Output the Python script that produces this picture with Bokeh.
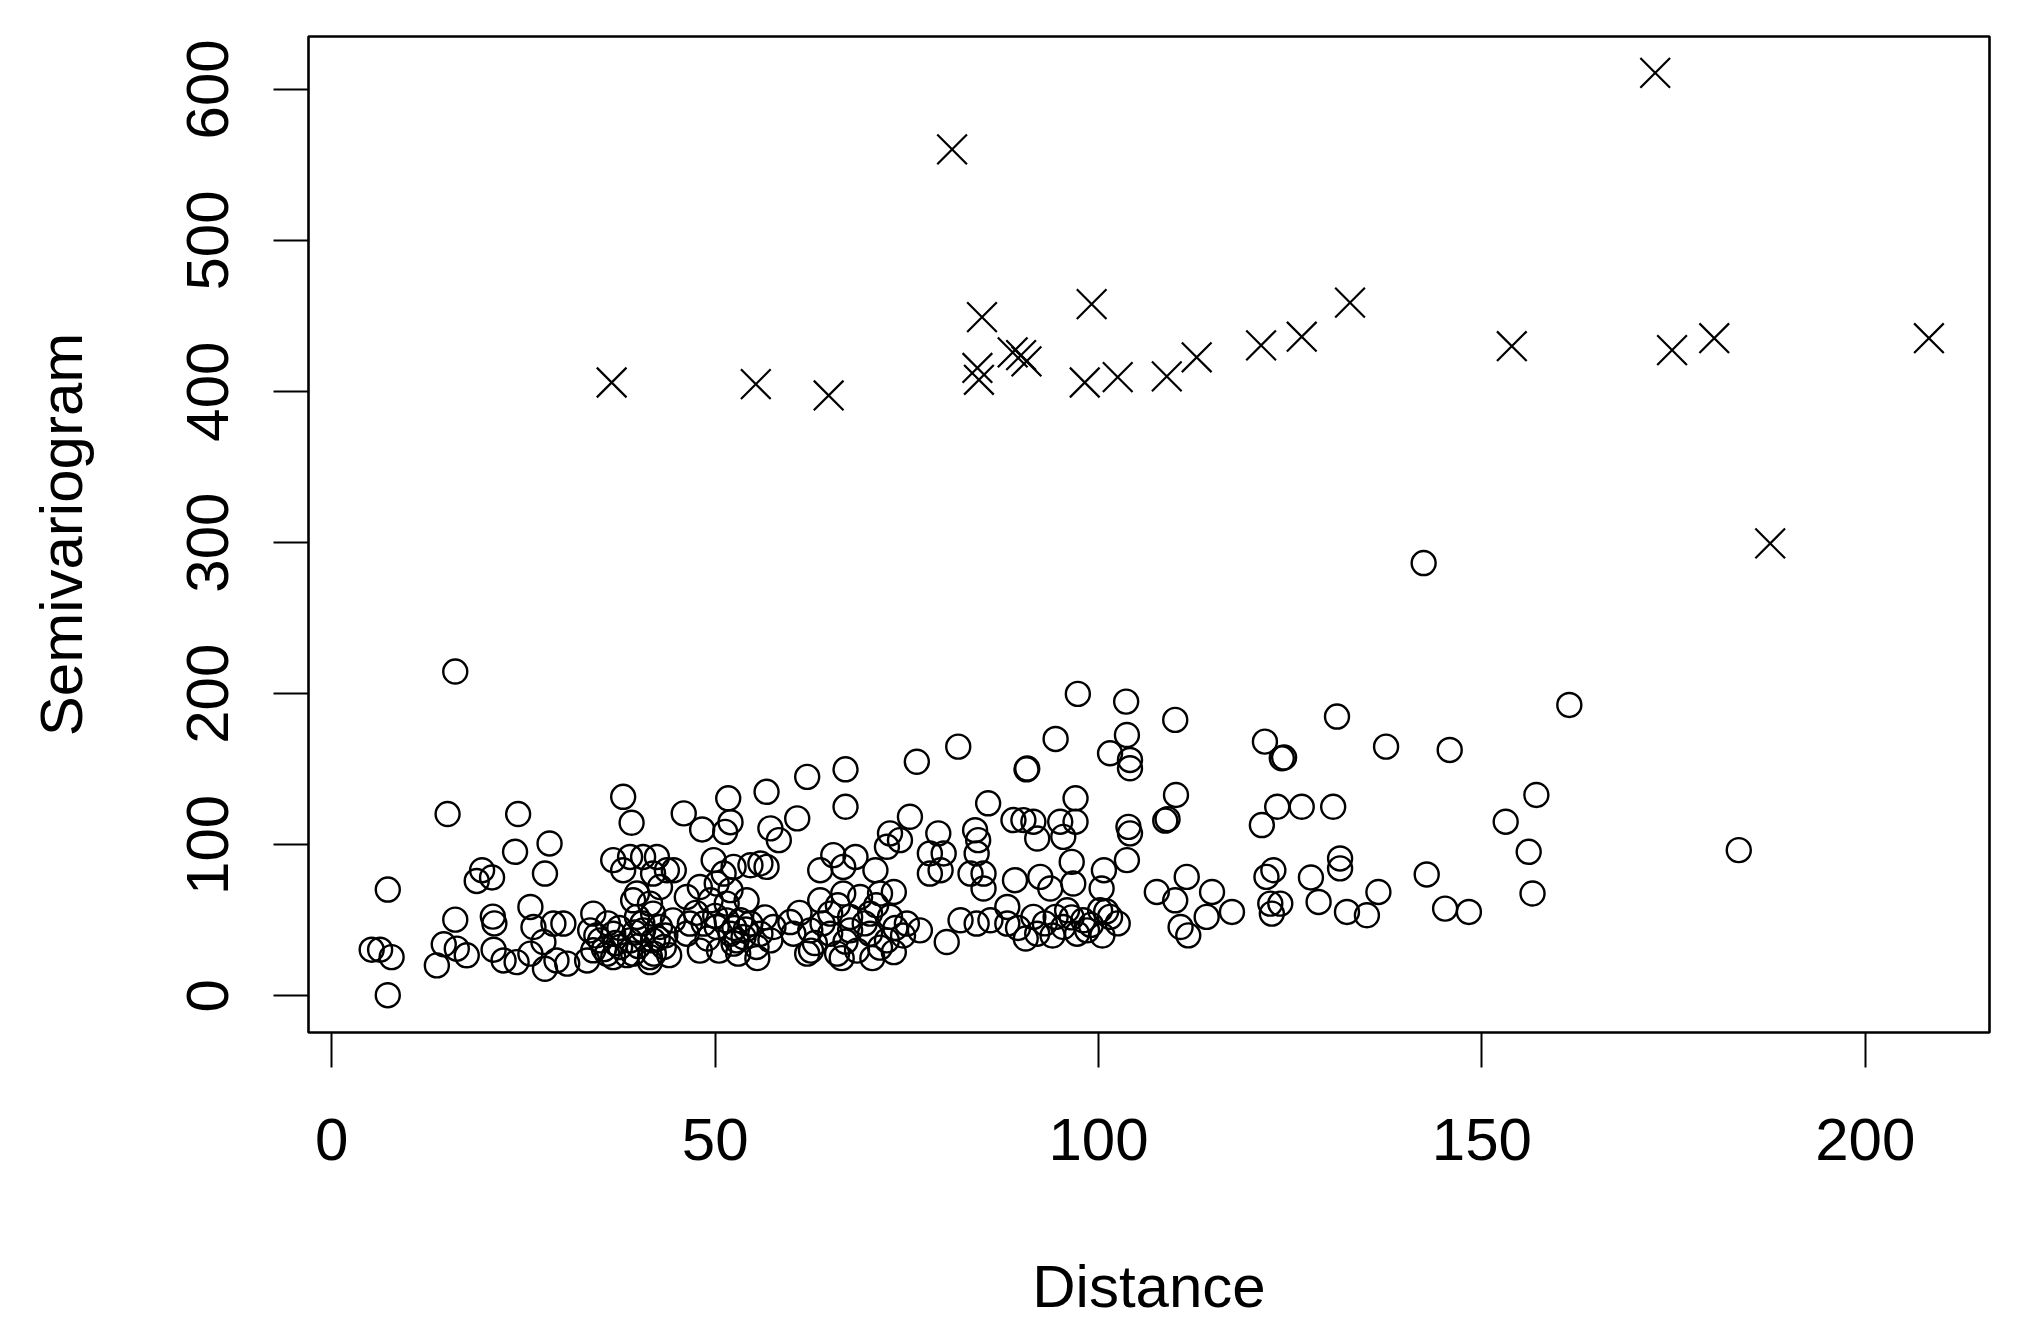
from bokeh.plotting import figure
from bokeh.models import Range1d, FixedTicker
from bokeh.embed import file_html
from bokeh.resources import INLINE

# Pairs shown as open circles (distance, semivariogram)
dist_o = [16.1, 15.1, 24.3, 38.0, 39.1, 45.9, 48.3, 51.7, 51.3, 52.0, 23.9, 28.4, 27.8, 19.6, 18.9, 20.9,
          7.3, 7.3, 5.2, 6.3, 7.8, 16.1, 14.6, 13.7, 17.6, 16.3, 21.0, 21.2, 21.1, 22.4, 24.1, 25.9,
          26.3, 25.9, 27.8, 27.6, 28.9, 30.2, 29.3, 30.7, 33.3, 34.1, 33.7,
          35.0, 36.7, 37.6, 35.9, 38.9, 40.6, 41.9, 39.3, 41.5, 43.3, 42.8, 39.8, 41.9, 36.7, 34.1,
          39.3, 41.5, 41.5, 36.7, 38.9, 40.6, 42.4, 43.7, 44.6, 38.0, 41.9, 42.8, 39.8, 46.3,
          49.8, 51.1, 52.4, 48.0, 50.2, 52.0, 49.4, 51.5, 46.7, 48.5, 50.2, 52.0, 52.4, 46.3,
          97.3, 103.6, 110.0, 94.4, 103.7, 81.7, 76.3, 67.0, 62.0, 56.7, 67.0, 60.7,
          90.6, 90.7, 101.5, 104.1, 104.1, 85.6, 97.0, 88.9, 90.2, 91.5, 92.0, 95.0, 97.0, 95.4,
          83.9, 84.3, 103.9, 104.1, 108.7, 109.0, 75.4, 72.8, 74.1, 72.4, 79.1, 78.0, 79.8, 78.0, 79.4,
          84.1, 83.3, 85.0, 85.0, 96.5, 89.1, 92.4, 93.7, 96.7, 100.7, 100.4, 103.7, 107.6,
          57.2, 58.3, 54.6, 55.9, 56.7, 54.1, 53.3, 54.6, 53.7, 55.9, 55.4, 57.2, 52.8, 59.8, 57.6, 62.0,
          63.7, 65.4, 68.3, 70.9, 66.7, 63.7, 66.7, 68.9, 71.5, 73.3,
          65.0, 67.6, 70.2, 72.8, 75.0, 76.7, 62.4, 65.0, 67.6, 70.2, 72.4, 65.9, 73.3, 60.2,
          82.0, 84.1, 80.2, 85.9, 88.1, 88.1, 91.5, 92.0, 94.4, 95.9, 95.4, 98.0, 100.2, 101.5, 98.5, 97.2,
          131.1, 161.4, 121.7, 123.9, 124.2, 137.5, 145.8, 110.1, 123.3, 126.5, 130.6, 121.3,
          157.1, 153.1, 156.1, 156.6, 142.8, 131.5, 131.5, 136.5, 132.4, 135.0, 145.2, 148.3,
          127.7, 128.7, 122.8, 121.9, 122.4, 122.6, 123.7,
          111.5, 110.0, 114.8, 117.4, 114.1, 110.7, 111.7, 183.5, 142.4,
          34.5, 36.0, 37.5, 38.5, 40.0, 40.5, 42.0, 43.5, 44.5, 37.0, 39.5, 35.5, 42.5, 44.0,
          47.5, 49.0, 50.5, 51.5, 53.0, 54.0, 55.5, 56.5, 48.0, 50.0, 52.5,
          61.0, 63.0, 64.0, 66.0, 67.0, 68.5, 69.5, 71.0, 71.5, 73.5, 74.5, 62.5, 66.5, 70.5,
          89.5, 90.5, 93.0, 94.0, 96.5, 99.0, 100.5, 102.5, 101.0]
gamma_o = [214.7, 120.4, 120.4, 131.8, 114.6, 120.8, 110.2, 130.8, 108.6, 115.0, 95.4, 100.9, 81.0, 83.2, 76.1, 78.4,
           70.4, 0.5, 30.6, 30.6, 25.7, 50.5, 34.2, 20.2, 26.9, 31.3, 52.5, 48.0, 30.6, 23.5, 22.4, 58.9,
           45.6, 28.0, 18.0, 35.7, 47.9, 47.9, 23.5, 21.4, 23.5, 54.5, 43.4,
           36.8, 41.2, 32.4, 28.0, 36.8, 43.4, 36.8, 28.0, 25.7, 32.4, 45.6, 52.3, 54.5, 25.7, 30.2,
           63.3, 61.1, 22.4, 89.9, 92.0, 92.0, 92.0, 83.2, 83.2, 83.2, 81.0, 72.1, 67.8, 65.5,
           89.9, 81.0, 85.4, 72.1, 74.4, 70.0, 63.3, 61.1, 47.9, 47.9, 45.6, 41.2, 34.6, 41.2,
           199.9, 194.8, 182.7, 170.1, 172.7, 165.0, 155.0, 150.0, 145.0, 135.1, 125.2, 117.5,
           150.0, 150.5, 160.6, 156.2, 150.7, 127.5, 130.8, 116.4, 116.4, 115.3, 104.2, 115.3, 115.3, 105.3,
           109.7, 103.1, 111.9, 107.6, 116.0, 117.0, 118.6, 107.6, 103.1, 98.7, 107.6, 94.3, 94.3, 81.0, 83.2,
           94.3, 81.0, 81.0, 71.1, 88.7, 76.6, 78.8, 71.1, 74.4, 83.2, 71.1, 89.9, 68.8,
           110.9, 103.1, 86.5, 87.7, 85.4, 63.3, 50.1, 47.9, 39.0, 41.2, 32.4, 36.8, 36.8, 48.9, 45.6, 28.0,
           83.2, 93.2, 92.0, 83.2, 85.4, 63.3, 67.8, 65.5, 67.8, 68.8,
           54.5, 52.3, 54.5, 52.3, 47.9, 43.4, 43.4, 41.2, 43.4, 41.2, 36.8, 28.0, 29.0, 41.2,
           50.1, 47.9, 35.7, 50.1, 58.9, 47.9, 52.3, 41.2, 52.3, 56.7, 45.6, 50.1, 56.7, 52.3, 43.4, 41.2,
           184.9, 192.6, 168.3, 157.3, 157.8, 165.0, 162.8, 133.0, 125.2, 125.2, 125.2, 113.1,
           133.0, 115.3, 95.4, 67.8, 80.4, 91.0, 84.4, 68.8, 55.6, 53.4, 57.8, 55.6,
           78.4, 62.2, 83.2, 78.8, 61.1, 54.5, 61.1,
           78.8, 63.3, 68.8, 55.6, 52.3, 45.6, 40.1, 96.5, 286.5,
           40.0, 48.0, 45.0, 27.0, 33.0, 48.0, 28.0, 40.0, 50.0, 35.0, 42.0, 31.0, 38.0, 27.0,
           55.0, 38.0, 30.0, 50.0, 28.0, 44.0, 25.0, 52.0, 30.0, 53.0, 45.0,
           55.0, 35.0, 48.0, 60.0, 36.0, 30.0, 48.0, 60.0, 32.0, 45.0, 40.0, 30.0, 25.0, 25.0,
           45.0, 38.0, 48.0, 40.0, 52.0, 47.0, 40.0, 48.0, 56.0]

# Pairs shown as crosses (distance, semivariogram)
dist_x = [36.5, 55.3, 64.8, 80.9, 84.8, 84.2, 84.4, 88.8, 89.9, 90.6, 99.1, 98.2, 102.5,
          108.9, 112.8, 121.2, 126.5, 132.8, 153.9, 172.6, 174.8, 180.3, 187.6, 208.3]
gamma_x = [406.0, 404.9, 397.4, 560.3, 449.3, 415.6, 407.8, 425.9, 424.1, 420.0, 457.9, 406.0, 409.6,
           410.1, 422.7, 430.6, 436.3, 458.9, 430.0, 610.9, 427.4, 435.3, 299.5, 435.3]

x_ticks = [0, 50, 100, 150, 200]
y_ticks = [0, 100, 200, 300, 400, 500, 600]

FONT = "Liberation Sans"
FS = "60px"

p = figure(width=2016, height=1320, frame_width=1681, frame_height=996,
           min_border_left=308, min_border_right=27, min_border_top=36, min_border_bottom=288,
           x_range=Range1d(-3.04, 216.2), y_range=Range1d(-24.2, 635.0),
           output_backend="svg", toolbar_location=None,
           x_axis_label="Distance", y_axis_label="Semivariogram")

p.background_fill_color = "white"
p.border_fill_color = "white"
p.outline_line_color = "black"
p.outline_line_width = 2.6
p.xgrid.visible = False
p.ygrid.visible = False

for ax, ticks in ((p.xaxis[0], x_ticks), (p.yaxis[0], y_ticks)):
    ax.ticker = FixedTicker(ticks=ticks)
    ax.axis_line_color = None
    ax.major_tick_out = 35
    ax.major_tick_in = 0
    ax.major_tick_line_width = 2
    ax.major_tick_line_color = "black"
    ax.minor_tick_line_color = None
    ax.major_label_text_font = FONT
    ax.major_label_text_font_size = FS
    ax.major_label_text_color = "black"
    ax.axis_label_text_font = FONT
    ax.axis_label_text_font_size = FS
    ax.axis_label_text_font_style = "normal"
    ax.axis_label_text_color = "black"

p.xaxis[0].major_label_standoff = 51
p.xaxis[0].axis_label_standoff = 90
p.yaxis[0].major_label_orientation = "vertical"
p.yaxis[0].major_label_standoff = 45
p.yaxis[0].axis_label_standoff = 90

p.scatter(dist_o, gamma_o, marker="circle", size=24, fill_color=None,
          line_color="black", line_width=2.4)
p.scatter(dist_x, gamma_x, marker="x", size=42, line_color="black", line_width=2.2)

open("out.html", "w").write(file_html(p, INLINE))
